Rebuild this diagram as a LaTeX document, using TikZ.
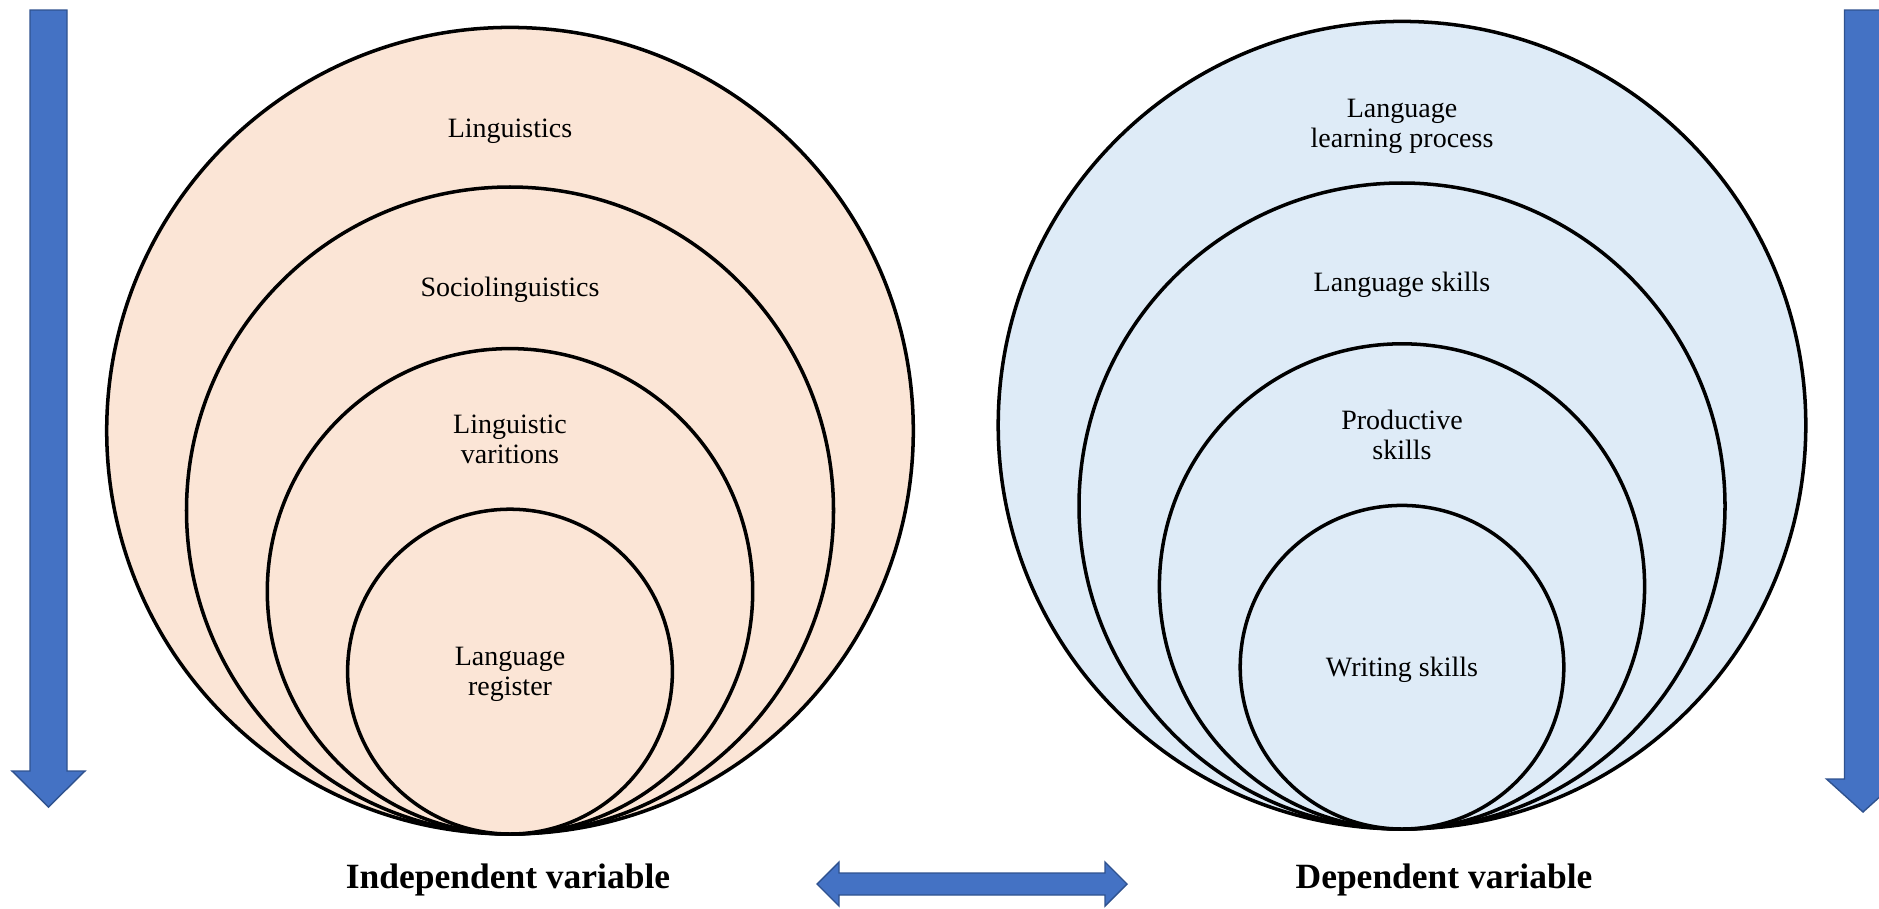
\documentclass[tikz,border=0pt]{standalone}
\usepackage{fontspec}
\setmainfont{Liberation Serif}
\usepackage{tikz}
\definecolor{LightPeach}{RGB}{251,229,214}
\definecolor{LightSky}{RGB}{222,235,247}
\definecolor{ArrowBlue}{RGB}{68,114,196}
\definecolor{ArrowEdge}{RGB}{47,82,143}

\begin{document}
\begin{tikzpicture}[
 ring/.style={draw, line width=1pt},
 lbl/.style={anchor=base, align=center, inner sep=0pt, font=\fontsize{7.97}{8.3}\selectfont},
 varlbl/.style={anchor=base, inner sep=0pt, font=\fontsize{10.1}{12}\selectfont\bfseries},
 bigarrow/.style={fill=ArrowBlue, draw=ArrowEdge, line width=0.4pt, line join=miter}
]
\useasboundingbox (0,0) rectangle (18.79,9.08);
\clip (0,0) rectangle (18.79,9.08);

% nested circles
\foreach \r in {4.033,3.235,2.427,1.624} {\draw[ring, fill=LightPeach] (5.10,0.74+\r) circle (\r);}
\foreach \r in {4.038,3.230,2.426,1.618} {\draw[ring, fill=LightSky] (14.02,0.79+\r) circle (\r);}

% base of a two-line label is its last line
\node[lbl] (ling) at (5.10,7.71) {Linguistics};
\node[lbl] (socio) at (5.10,6.12) {Sociolinguistics};
\node[lbl] (var) at (5.10,4.45) {Linguistic\\varitions};
\node[lbl] (reg) at (5.10,2.13) {Language\\register};

\node[lbl] (learn) at (14.02,7.61) {Language\\learning process};
\node[lbl] (skills) at (14.02,6.17) {Language skills};
\node[lbl] (prod) at (14.02,4.49) {Productive\\skills};
\node[lbl] (writ) at (14.02,2.32) {Writing skills};

% block arrows
\draw[bigarrow] (0.30,8.98) -- (0.67,8.98) -- (0.67,1.37) -- (0.85,1.37) -- (0.485,1.01) -- (0.12,1.37) -- (0.30,1.37) -- cycle;
\draw[bigarrow] (18.445,8.98) -- (18.815,8.98) -- (18.815,1.29) -- (18.995,1.29) -- (18.63,0.96) -- (18.265,1.29) -- (18.445,1.29) -- cycle;
\draw[bigarrow] (8.17,0.24) -- (8.39,0.46) -- (8.39,0.35) -- (11.05,0.35) -- (11.05,0.46) -- (11.27,0.24) -- (11.05,0.02) -- (11.05,0.13) -- (8.39,0.13) -- (8.39,0.02) -- cycle;

\node[varlbl] (indep) at (5.08,0.20) {Independent variable};
\node[varlbl] (dep) at (14.44,0.20) {Dependent variable};
\end{tikzpicture}
\end{document}
